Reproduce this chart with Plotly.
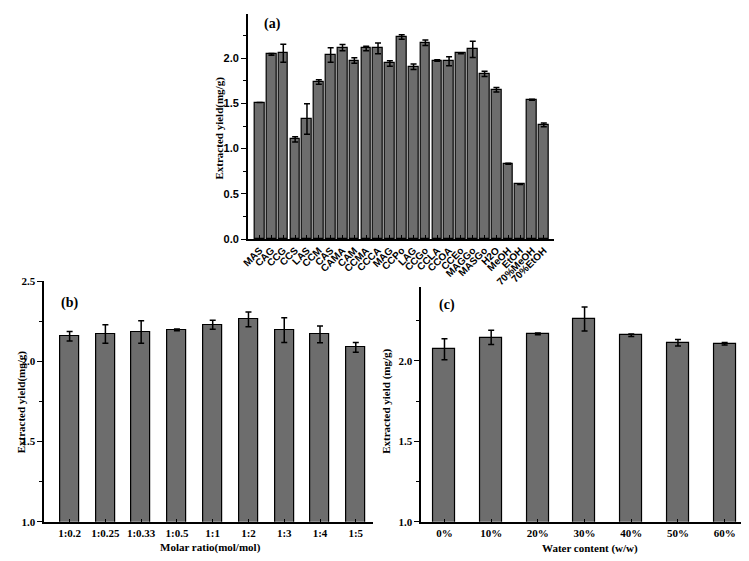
import plotly.graph_objects as go

# Panel (a): solvents
a_labels = ["MAS", "CAG", "CCG", "CCS", "LAS", "CCM", "CAS", "CAMA", "CAM", "CCMA",
            "CCCA", "MAG", "CCPo", "LAG", "CCGo", "CCLA", "CCOA", "CCEo", "MAGGo",
            "MASGo", "H2O", "MeOH", "EtOH", "70%MeOH", "70%EtOH"]
a_values = [1.51, 2.044, 2.055, 1.103, 1.328, 1.737, 2.037, 2.117, 1.975, 2.109,
            2.109, 1.943, 2.236, 1.907, 2.171, 1.975, 1.968, 2.055, 2.098,
            1.827, 1.653, 0.832, 0.604, 1.541, 1.263]
a_errors = [0.0, 0.01, 0.10, 0.03, 0.17, 0.025, 0.08, 0.035, 0.03, 0.025,
            0.06, 0.03, 0.025, 0.03, 0.03, 0.008, 0.05, 0.005, 0.09,
            0.03, 0.025, 0.005, 0.0, 0.005, 0.02]

# Panel (b): molar ratio
b_labels = ["1:0.2", "1:0.25", "1:0.33", "1:0.5", "1:1", "1:2", "1:3", "1:4", "1:5"]
b_values = [2.156, 2.170, 2.182, 2.196, 2.228, 2.261, 2.194, 2.168, 2.087]
b_errors = [0.03, 0.058, 0.07, 0.005, 0.028, 0.046, 0.077, 0.052, 0.03]

# Panel (c): water content
c_labels = ["0%", "10%", "20%", "30%", "40%", "50%", "60%"]
c_values = [2.073, 2.146, 2.168, 2.261, 2.160, 2.113, 2.107]
c_errors = [0.065, 0.044, 0.005, 0.075, 0.008, 0.02, 0.008]

OFF = 8  # default page body margin
W, H = 749 - OFF, 561 - OFF
BAR = "#6d6d6d"
SERIF = "Liberation Serif"
SANS = "Liberation Sans"


def fx(x):
    return min(max((x - OFF) / W, 0.0), 1.0)


def fy(y):
    return min(max(1 - (y - OFF) / H, 0.0), 1.0)


def px(x0, x1):
    return [fx(x0), fx(x1)]


def py(top, bottom):
    return [fy(bottom), fy(top)]


def bar(x, y, e, xa, ya, width):
    return go.Bar(
        x=list(range(len(x))), y=y, xaxis=xa, yaxis=ya, width=width,
        marker=dict(color=BAR, line=dict(color="black", width=1.2)),
        error_y=dict(type="data", array=e, visible=True, color="black",
                     thickness=1.5, width=3),
        showlegend=False,
    )


fig = go.Figure()
fig.add_trace(bar(a_labels, a_values, a_errors, "x", "y", 0.82))
fig.add_trace(bar(b_labels, b_values, b_errors, "x2", "y2", 0.53))
fig.add_trace(bar(c_labels, c_values, c_errors, "x3", "y3", 0.47))

axis_common = dict(showline=True, linecolor="black", linewidth=1.5, mirror=False,
                   showgrid=False, zeroline=False, ticks="outside", tickcolor="black",
                   ticklen=5, tickwidth=1.3)

TF = dict(family=SERIF, size=11, color="black", weight="bold")

fig.update_layout(
    width=W, height=H, margin=dict(l=0, r=0, t=0, b=0),
    plot_bgcolor="white", paper_bgcolor="white", bargap=0,
    xaxis=dict(axis_common, domain=px(243, 552), range=[-1, 24.85],
               tickmode="array", tickvals=list(range(len(a_labels))),
               ticktext=a_labels, tickangle=-45, ticks="inside", ticklen=4,
               tickfont=dict(family=SANS, size=10, color="black", weight="bold"),
               anchor="y"),
    yaxis=dict(axis_common, domain=py(8, 238), range=[0, 2.49],
               tickvals=[0, 0.5, 1.0, 1.5, 2.0, 2.5], tickformat=".1f",
               tickfont=dict(family=SANS, size=11, color="black", weight="bold"),
               minor=dict(ticks="outside", dtick=0.25, ticklen=3, tickcolor="black"),
               anchor="x"),
    xaxis2=dict(axis_common, domain=px(37.5, 369), range=[-0.71, 8.47],
                tickmode="array", tickvals=list(range(len(b_labels))),
                ticktext=b_labels, ticks="inside", ticklen=3, tickfont=TF,
                anchor="y2"),
    yaxis2=dict(axis_common, domain=py(281, 527), range=[1, 2.5], dtick=0.5,
                tickformat=".1f", tickfont=TF,
                minor=dict(ticks="outside", dtick=0.25, ticklen=3, tickcolor="black"),
                anchor="x2"),
    xaxis3=dict(axis_common, domain=px(418, 748), range=[-0.5, 6.5],
                tickmode="array", tickvals=list(range(len(c_labels))),
                ticktext=c_labels, ticks="inside", ticklen=3, tickfont=TF,
                anchor="y3"),
    yaxis3=dict(axis_common, domain=py(287, 527), range=[1, 2.46],
                tickvals=[1.0, 1.5, 2.0], tickformat=".1f", tickfont=TF,
                minor=dict(ticks="outside", tickvals=[1.25, 1.75, 2.25], ticklen=3,
                           tickcolor="black"),
                anchor="x3"),
)

ann = [
    dict(text="(a)", x=268, y=18, font=dict(size=14)),
    dict(text="(b)", x=63, y=303, font=dict(size=14)),
    dict(text="(c)", x=444, y=305, font=dict(size=14)),
    dict(text="Extracted yield(mg/g)", x=214, y=125, textangle=-90,
         font=dict(size=11)),
    dict(text="Extracted yield(mg/g)", x=14, y=404, textangle=-90,
         font=dict(size=11)),
    dict(text="Extracted yield (mg/g)", x=383, y=404, textangle=-90,
         font=dict(size=11)),
    dict(text="Molar ratio(mol/mol)", x=205, y=553, font=dict(size=11)),
    dict(text="Water content (w/w)", x=588, y=554, font=dict(size=11)),
]
for a in ann:
    a["font"].update(family=SERIF, color="black", weight="bold")
    a["x"] = fx(a["x"])
    a["y"] = fy(a["y"])
    fig.add_annotation(xref="paper", yref="paper", showarrow=False,
                       xanchor="center", yanchor="middle", **a)

fig.write_html("out.html")
